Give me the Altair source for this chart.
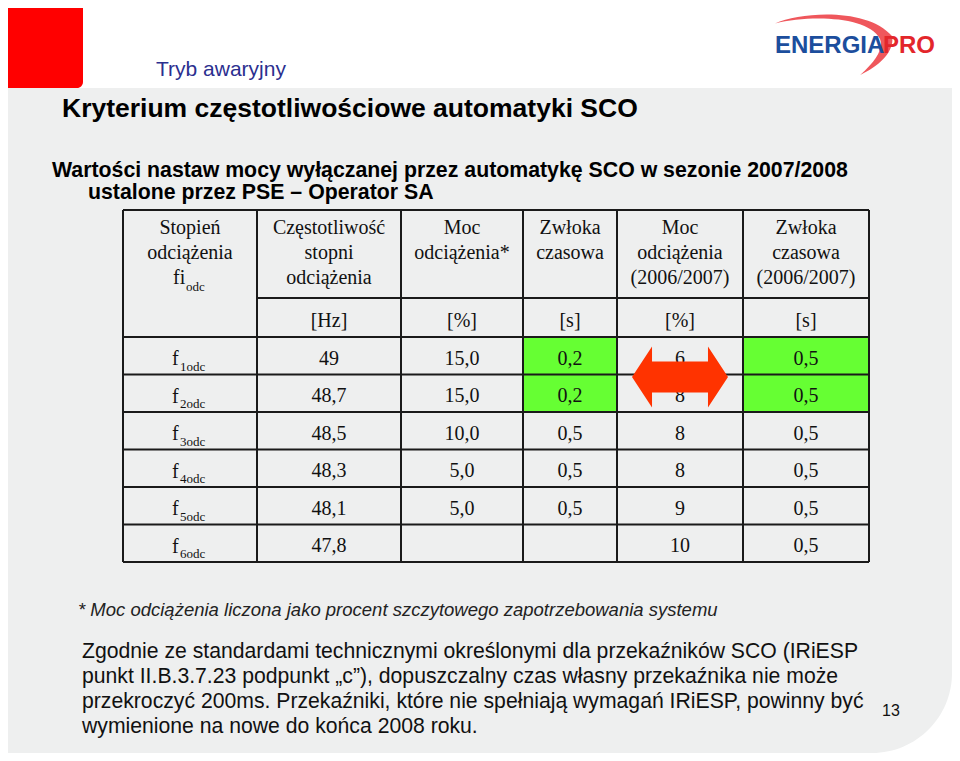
import altair as alt
import pandas as pd

# ---------------- data ----------------
slide_section = "Tryb awaryjny"
slide_title = "Kryterium częstotliwościowe automatyki SCO"
subtitle_lines = [
    "Wartości nastaw mocy wyłączanej przez automatykę SCO w sezonie 2007/2008",
    "ustalone przez PSE – Operator SA",
]
header_lines = [
    ["Stopień", "odciążenia"],
    ["Częstotliwość", "stopni", "odciążenia"],
    ["Moc", "odciążenia*"],
    ["Zwłoka", "czasowa"],
    ["Moc", "odciążenia", "(2006/2007)"],
    ["Zwłoka", "czasowa", "(2006/2007)"],
]
first_header_symbol = ["fi", "odc"]
units = ["[Hz]", "[%]", "[s]", "[%]", "[s]"]
stage_index = ["1", "2", "3", "4", "5", "6"]
frequency_hz = ["49", "48,7", "48,5", "48,3", "48,1", "47,8"]
load_pct = ["15,0", "15,0", "10,0", "5,0", "5,0", ""]
delay_s = ["0,2", "0,2", "0,5", "0,5", "0,5", ""]
load_prev_pct = ["6", "8", "8", "8", "9", "10"]
delay_prev_s = ["0,5", "0,5", "0,5", "0,5", "0,5", "0,5"]
highlight_rows = [0, 1]          # rows with changed delay (green)
highlight_cols = [3, 5]          # delay columns
footnote = "* Moc odciążenia liczona jako procent szczytowego zapotrzebowania systemu"
paragraph = [
    "Zgodnie ze standardami technicznymi określonymi dla przekaźników SCO (IRiESP",
    "punkt II.B.3.7.23 podpunkt „c”), dopuszczalny czas własny przekaźnika nie może",
    "przekroczyć 200ms. Przekaźniki, które nie spełniają wymagań IRiESP, powinny być",
    "wymienione na nowe do końca 2008 roku.",
]
page_number = "13"
logo_parts = ["ENERGIA", "PRO"]

# ---------------- layout ----------------
W, H = 944, 745
XS = alt.Scale(domain=[8, 8 + W], range=[0, W], nice=False, zero=False)
YS = alt.Scale(domain=[8, 8 + H], range=[0, H], nice=False, zero=False)

col_edges = [123, 257, 401, 523, 617, 743, 869]
table_top, unit_top, body_top, row_h = 210, 298, 337, 37.5
row_edges = [body_top + i * row_h for i in range(len(stage_index) + 1)]
col_c = [(col_edges[i] + col_edges[i + 1]) / 2 for i in range(len(col_edges) - 1)]
row_c = [(row_edges[i] + row_edges[i + 1]) / 2 for i in range(len(stage_index))]
SERIF = "Liberation Serif"
SANS = "Liberation Sans"


def enc(chart, text=False, two=False):
    e = dict(x=alt.X("x:Q", scale=XS, axis=None), y=alt.Y("y:Q", scale=YS, axis=None))
    if two:
        e["x2"] = alt.X2("x2:Q")
        e["y2"] = alt.Y2("y2:Q")
    if text:
        e["text"] = alt.Text("t:N")
    return chart.encode(**e)


def text_layer(rows, **props):
    df = pd.DataFrame(rows, columns=["x", "y", "t"])
    props.setdefault("baseline", "alphabetic")
    return enc(alt.Chart(df).mark_text(**props), text=True)


def rect_layer(rows, **props):
    df = pd.DataFrame(rows, columns=["x", "x2", "y", "y2"])
    return enc(alt.Chart(df).mark_rect(**props), two=True)


layers = []
# slide background
layers.append(rect_layer([[8, 952, 88, 753]], color="#EEEFEF", cornerRadiusBottomRight=80))
layers.append(rect_layer([[8, 83, 8, 88]], color="#FF0000", cornerRadiusBottomRight=6))

# logo swoosh + text
swoosh = ("M -0.95 -0.36 C -0.5 -0.56 0.6 -0.62 1.0 -0.15 C 1.05 0.1 0.8 0.35 0.47 0.5 "
          "C 0.75 0.25 0.86 0.05 0.8 -0.1 C 0.6 -0.48 -0.35 -0.5 -0.95 -0.36 Z")
layers.append(enc(alt.Chart(pd.DataFrame({"x": [832], "y": [45]})).mark_point(
    shape=swoosh, size=14400, filled=True, color="#EC3A3F", opacity=0.85, strokeWidth=0)))
layers.append(text_layer([[775, 53, logo_parts[0]]], align="left", font=SANS, fontWeight="bold",
                         fontSize=24, color="#1C4E9D"))
layers.append(text_layer([[883, 53, logo_parts[1]]], align="left", font=SANS, fontWeight="bold",
                         fontSize=24, color="#E3262B"))

# headings
layers.append(text_layer([[156, 76, slide_section]], align="left", font=SANS, fontSize=21, color="#2B2F8F"))
layers.append(text_layer([[62, 117, slide_title]], align="left", font=SANS, fontWeight="bold",
                         fontSize=26.5, color="#000000"))
layers.append(text_layer([[52, 177, subtitle_lines[0]], [88, 199, subtitle_lines[1]]], align="left",
                         font=SANS, fontWeight="bold", fontSize=21.3, color="#000000"))

# table highlight cells
green = []
for r in highlight_rows:
    for c in highlight_cols:
        green.append([col_edges[c], col_edges[c + 1], row_edges[r], row_edges[r + 1]])
layers.append(rect_layer(green, color="#66FF33"))

# table grid
lines = []
for xe in col_edges:
    lines.append([xe, xe, table_top, row_edges[-1]])
lines.append([col_edges[0], col_edges[-1], table_top, table_top])
lines.append([col_edges[1], col_edges[-1], unit_top, unit_top])
for ye in row_edges:
    lines.append([col_edges[0], col_edges[-1], ye, ye])
grid_df = pd.DataFrame(lines, columns=["x", "x2", "y", "y2"])
layers.append(enc(alt.Chart(grid_df).mark_rule(color="#1A1A1A", strokeWidth=2), two=True))

# table texts (centered serif)
cells = []
for c, hl in enumerate(header_lines):
    for i, line in enumerate(hl):
        cells.append([col_c[c], 234 + 25 * i, line])
for c, u in enumerate(units):
    cells.append([col_c[c + 1], (unit_top + body_top) / 2 + 9, u])
for col, values in enumerate([frequency_hz, load_pct, delay_s, load_prev_pct, delay_prev_s]):
    for r, v in enumerate(values):
        cells.append([col_c[col + 1], row_c[r] + 9, v])
layers.append(text_layer(cells, align="center", font=SERIF, fontSize=20, color="#111111"))

# symbols with subscripts in first column
main_sym = [[col_c[0] - 17, 284, first_header_symbol[0]]]
sub_sym = [[col_c[0] - 4, 291, first_header_symbol[1]]]
for r, s in enumerate(stage_index):
    main_sym.append([col_c[0] - 18, row_c[r] + 9.5, "f"])
    sub_sym.append([col_c[0] - 10, row_c[r] + 15, s + "odc"])
layers.append(text_layer(main_sym, align="left", font=SERIF, fontSize=20, color="#111111"))
layers.append(text_layer(sub_sym, align="left", font=SERIF, fontSize=13, color="#111111"))

# double arrow over previous-season load column
arrow = ("M -1 0 L -0.583 -0.635 L -0.583 -0.323 L 0.583 -0.323 L 0.583 -0.635 L 1 0 "
         "L 0.583 0.635 L 0.583 0.323 L -0.583 0.323 L -0.583 0.635 Z")
layers.append(enc(alt.Chart(pd.DataFrame({"x": [col_c[4]], "y": [row_edges[1] + 2.5]})).mark_point(
    shape=arrow, size=96 * 96, filled=True, color="#FF3300", opacity=1, strokeWidth=0)))

# footnote and paragraph
layers.append(text_layer([[78, 616, footnote]], align="left", font=SANS, fontStyle="italic",
                         fontSize=18.5, color="#222222"))
layers.append(text_layer([[82, 658 + 25 * i, line] for i, line in enumerate(paragraph)], align="left",
                         font=SANS, fontSize=21.2, color="#111111"))
layers.append(text_layer([[882, 716, page_number]], align="left", font=SANS, fontSize=16, color="#111111"))

chart = alt.layer(*layers).properties(
    width=W, height=H, padding=0, autosize="none", background="white"
).configure_view(stroke=None)

chart.save("out.html", embed_options={"renderer": "svg", "actions": False})
